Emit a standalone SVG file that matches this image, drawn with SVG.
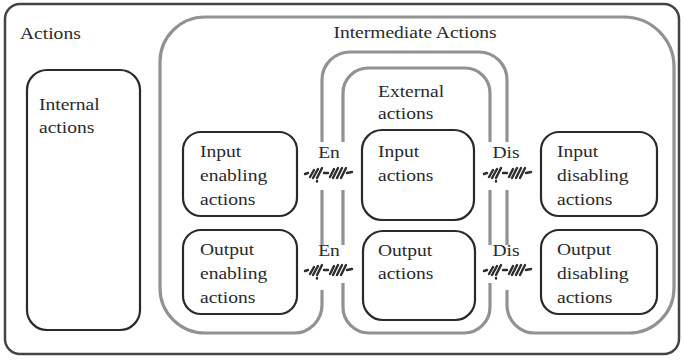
<svg xmlns="http://www.w3.org/2000/svg" width="684" height="363" viewBox="0 0 684 363">
<style>
.frame{fill:none;stroke:#444;stroke-width:2.5}
.box{fill:none;stroke:#2a2a2a;stroke-width:2.2}
.gray{fill:none;stroke:#929292;stroke-width:3.2;stroke-linecap:butt}
.t{font-family:"Liberation Serif","Times New Roman",serif;font-size:17px;fill:#2a2a2a}
.h{stroke:#2e2e2e;stroke-width:2.4;stroke-linecap:round;fill:none}
</style>
<defs>
<g id="hatch">
<path class="h" d="M-24 1L-21 0M-19 4L-15 -3M-16 5L-11 -4M-12 5L-7 -5M-12 8L-12 8.5M-5 0L-1 0M1 4L5 -4M4 5L9 -5M8 5L13 -5M12 5L17 -5M18 0L23 -1"/>
</g>
</defs>
<rect id="actions-frame" class="frame" x="5" y="4" width="674" height="350" rx="15"/>
<g id="connectors">
<path class="gray" d="M322 290L322 305A28 28 0 0 1 294 333L205 333A45 45 0 0 1 160 288L160 62A45 45 0 0 1 205 17L624 17A50 50 0 0 1 674 67L674 288A45 45 0 0 1 629 333L535 333A28 28 0 0 1 507 305L507 290"/>
<path class="gray" d="M322 142L322 80A28 28 0 0 1 350 52L479 52A28 28 0 0 1 507 80L507 142"/>
<path class="gray" d="M343 142L343 93A25 25 0 0 1 368 68L465 68A25 25 0 0 1 490 93L490 142"/>
<path class="gray" d="M322 190L322 245M343 190L343 245M490 190L490 245M507 190L507 245"/>
<path class="gray" d="M343 283L343 307A26 26 0 0 0 369 333L464 333A26 26 0 0 0 490 307L490 283"/>
<use href="#hatch" x="329" y="173"/>
<use href="#hatch" x="508" y="173"/>
<use href="#hatch" x="329" y="270"/>
<use href="#hatch" x="508" y="270"/>
</g>
<g id="labels">
<text class="t" transform="translate(20,39) scale(1.15,1)">Actions</text>
<text class="t" text-anchor="middle" transform="translate(415,38) scale(1.15,1)">Intermediate Actions</text>
<text class="t" transform="translate(378,97) scale(1.15,1)"><tspan x="0" y="0">External</tspan><tspan x="0" y="22">actions</tspan></text>
<text class="t" text-anchor="middle" transform="translate(329,158) scale(1.15,1)">En</text>
<text class="t" text-anchor="middle" transform="translate(506,158) scale(1.15,1)">Dis</text>
<text class="t" text-anchor="middle" transform="translate(329,256) scale(1.15,1)">En</text>
<text class="t" text-anchor="middle" transform="translate(506,256) scale(1.15,1)">Dis</text>
</g>
<g id="internal">
<rect class="box" x="27" y="70" width="113" height="260" rx="20"/>
<text class="t" transform="translate(39,110) scale(1.15,1)"><tspan x="0" y="0">Internal</tspan><tspan x="0" y="23">actions</tspan></text>
</g>
<g id="input-enabling">
<rect class="box" x="183" y="132" width="114" height="84" rx="18"/>
<text class="t" transform="translate(200,157) scale(1.15,1)"><tspan x="0" y="0">Input</tspan><tspan x="0" y="24">enabling</tspan><tspan x="0" y="48">actions</tspan></text>
</g>
<g id="output-enabling">
<rect class="box" x="183" y="230" width="114" height="84" rx="18"/>
<text class="t" transform="translate(200,255) scale(1.15,1)"><tspan x="0" y="0">Output</tspan><tspan x="0" y="24">enabling</tspan><tspan x="0" y="48">actions</tspan></text>
</g>
<g id="input-actions">
<rect class="box" x="362" y="130" width="112" height="90" rx="20"/>
<text class="t" transform="translate(378,157) scale(1.15,1)"><tspan x="0" y="0">Input</tspan><tspan x="0" y="24">actions</tspan></text>
</g>
<g id="output-actions">
<rect class="box" x="363" y="231" width="112" height="89" rx="20"/>
<text class="t" transform="translate(378,256) scale(1.15,1)"><tspan x="0" y="0">Output</tspan><tspan x="0" y="23">actions</tspan></text>
</g>
<g id="input-disabling">
<rect class="box" x="541" y="132" width="116" height="84" rx="18"/>
<text class="t" transform="translate(557,157) scale(1.15,1)"><tspan x="0" y="0">Input</tspan><tspan x="0" y="24">disabling</tspan><tspan x="0" y="48">actions</tspan></text>
</g>
<g id="output-disabling">
<rect class="box" x="541" y="230" width="116" height="84" rx="18"/>
<text class="t" transform="translate(557,255) scale(1.15,1)"><tspan x="0" y="0">Output</tspan><tspan x="0" y="24">disabling</tspan><tspan x="0" y="48">actions</tspan></text>
</g>
</svg>
